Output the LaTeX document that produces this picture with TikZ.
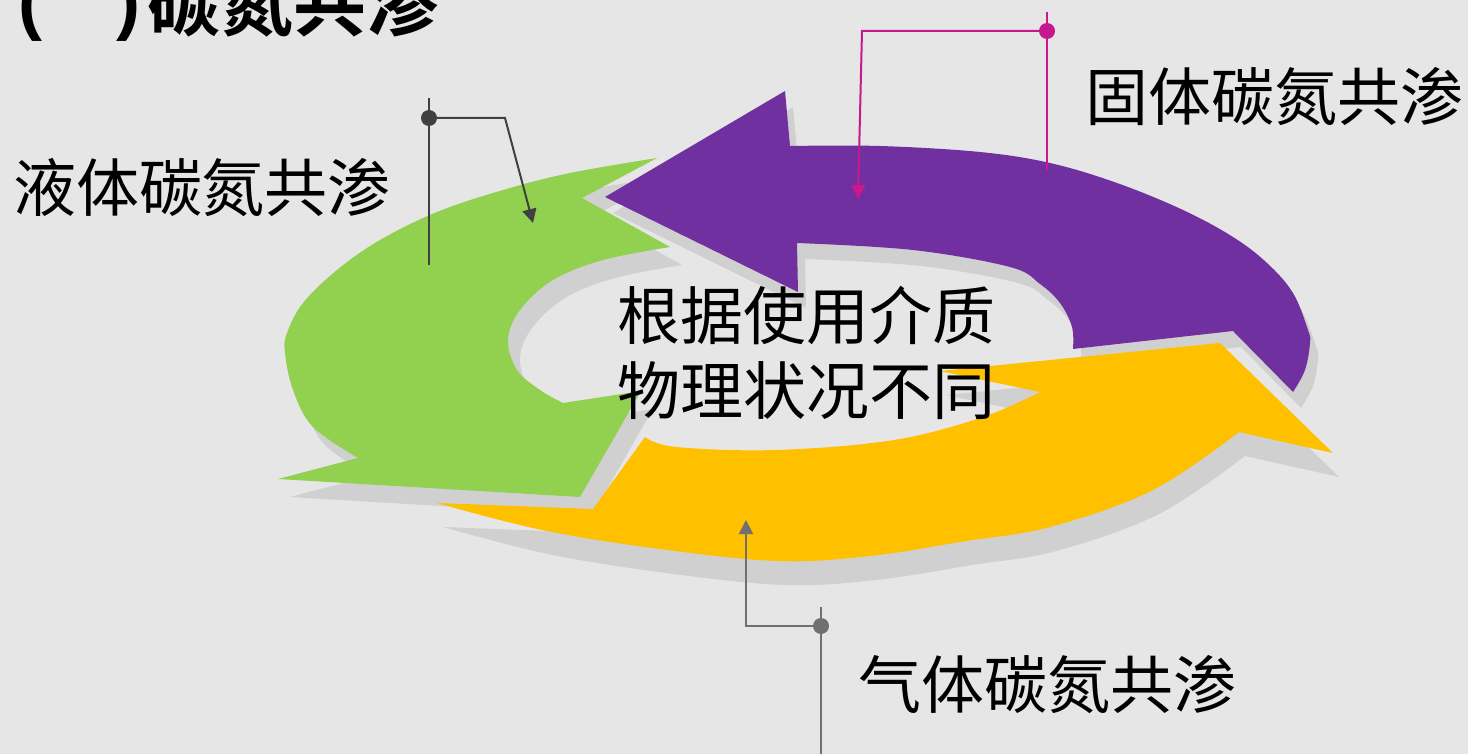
\documentclass[tikz,border=0pt]{standalone}
\usepackage{fontspec}
\newfontfamily\cjk{Noto Sans CJK SC}
\newfontfamily\cjkbold{Noto Sans CJK SC Bold}
\newfontfamily\latinbold{Liberation Sans Bold}
\usetikzlibrary{arrows.meta}
\definecolor{bgc}{HTML}{E6E6E6}
\definecolor{shadowc}{HTML}{D0D0D0}
\definecolor{greenc}{HTML}{92D050}
\definecolor{purplec}{HTML}{7030A0}
\definecolor{yellowc}{HTML}{FFC000}
\definecolor{pinkc}{HTML}{C8188F}
\definecolor{darkc}{HTML}{404040}
\definecolor{grayc}{HTML}{707070}
\newcommand\greenpath{(657,158) -- (582,198) -- (670,247) -- plot[smooth,tension=0.6] coordinates {(670,247) (603,260) (553,280) (520,310) (508,340) (517,370) (540,390) (563,403)} -- (641,391) -- (580,497) -- (278,479) -- (358,458) -- plot[smooth,tension=0.6] coordinates {(358,458) (313,427) (293,390) (285,353) (287,333) (303,303) (337,270) (380,240) (437,212) (503,190) (570,173) (657,158)} -- cycle}
\newcommand\purplepath{(605,197) -- (785,91) -- (790,146) -- plot[smooth,tension=0.6] coordinates {(790,146) (880,146) (980,152) (1050,163) (1117,183) (1183,210) (1233,237) (1267,263) (1293,293) (1308,330) (1310,343) (1305,370) (1293,392)} -- (1233,331) -- (1073,349) -- plot[smooth,tension=0.6] coordinates {(1073,349) (1072,327) (1060,303) (1040,284) (1010,267) (913,250) (797,243)} -- (798,292) -- cycle}
\newcommand\yellowpath{(437,503) -- (593,509) -- (645,437) -- plot[smooth,tension=0.6] coordinates {(645,437) (676,447) (776,450) (894,440) (983,417) (1040,392)} -- (940,371) -- (1220,343) -- (1333,453) -- (1239,432) -- plot[smooth,tension=0.6] coordinates {(1239,432) (1153,490) (1050,527) (966,541) (870,556) (778,561) (660,549) (542,530) (437,503)} -- cycle}
\tikzset{
  lbl/.style={font=\cjk\fontsize{31.5pt}{37.5pt}\selectfont, inner sep=0pt, text=black},
  conn/.style={line width=1pt},
  dotc/.style={circle, inner sep=0pt, minimum size=8pt},
  tip/.style={-{Triangle[length=7pt,width=7pt]}}
}
\begin{document}
\begin{tikzpicture}[x=0.5pt,y=-0.5pt]
\useasboundingbox (0,0) rectangle (1468,754);
\fill[bgc] (0,0) rectangle (1468,754);
% shadows
\fill[shadowc, shift={(12,18)}] \greenpath;
\fill[shadowc, shift={(8,16)}] \purplepath;
\fill[shadowc, shift={(6,24)}] \yellowpath;
% arrows
\fill[greenc] \greenpath;
\fill[purplec] \purplepath;
\fill[yellowc] \yellowpath;
% title
\node[inner sep=0pt, anchor=base, font=\latinbold\fontsize{36pt}{40pt}\selectfont] (lp) at (30,27) {(};
\node[inner sep=0pt, anchor=base, font=\latinbold\fontsize{36pt}{40pt}\selectfont] (rp) at (128,27) {)};
\node[inner sep=0pt, anchor=base west, font=\cjkbold\fontsize{36.5pt}{40pt}\selectfont] (title) at (147,31) {碳氮共渗};
% labels
\node[lbl] (liquid) at (202,188) {液体碳氮共渗};
\node[lbl] (solid) at (1274,97) {固体碳氮共渗};
\node[lbl] (gas) at (1047,685) {气体碳氮共渗};
\node[lbl, align=center] (center) at (806,353) {根据使用介质\\物理状况不同};
% connectors
\coordinate (g1) at (429,98);
\coordinate (g2) at (429,265);
\coordinate (gb) at (505,118);
\coordinate (gt) at (533,223);
\node[dotc, fill=darkc] (gd) at (429,118) {};
\draw[conn, darkc] (g1) -- (g2);
\draw[conn, darkc, tip] (gd.center) -- (gb) -- (gt);
\coordinate (p1) at (1047,12);
\coordinate (p2) at (1047,170);
\coordinate (pb) at (862,31);
\coordinate (pt) at (858,199);
\node[dotc, fill=pinkc] (pd) at (1047,31) {};
\draw[conn, pinkc] (p1) -- (p2);
\draw[conn, pinkc, tip] (pd.center) -- (pb) -- (pt);
\coordinate (q1) at (821,607);
\coordinate (q2) at (821,754);
\coordinate (qb) at (746,626);
\coordinate (qt) at (746,520);
\node[dotc, fill=grayc] (qd) at (821,626) {};
\draw[conn, grayc] (q1) -- (q2);
\draw[conn, grayc, tip] (qd.center) -- (qb) -- (qt);
\end{tikzpicture}
\end{document}
